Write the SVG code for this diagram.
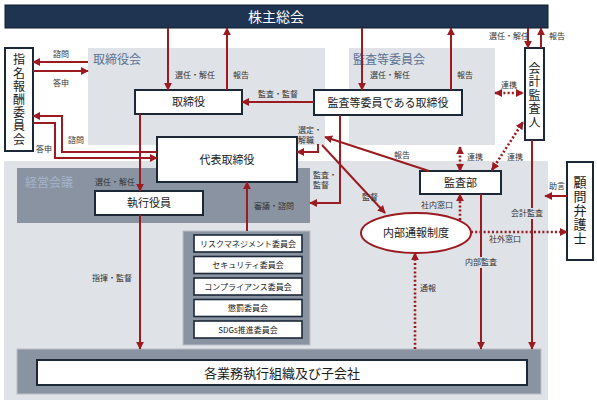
<svg xmlns="http://www.w3.org/2000/svg" width="597" height="405" viewBox="0 0 597 405">
<defs>
<style>
text{font-family:"Noto Sans CJK JP","Noto Sans",sans-serif;}
.panel{fill:#dfe2e7;}
.mid{fill:#8a93a1;}
.box{fill:#fff;stroke:#1b2838;stroke-width:2;}
.cbox{fill:#fff;stroke:#1b2838;stroke-width:1.6;}
.bt{font-size:11px;fill:#1a1a1a;text-anchor:middle;}
.ct{font-size:8px;fill:#1a1a1a;text-anchor:middle;}
.lb{font-size:8px;fill:#333;}
.pl{font-size:12px;fill:#5a7293;}
.ln{fill:none;stroke:#9b1b20;stroke-width:2;}
.dt{fill:none;stroke:#9b1b20;stroke-width:2.6;stroke-dasharray:2 2.2;}
.vt{fill:#1a1a1a;text-anchor:middle;writing-mode:vertical-rl;}
</style>
<marker id="ah" viewBox="0 0 10 10" refX="9" refY="5" markerWidth="8" markerHeight="8" markerUnits="userSpaceOnUse" orient="auto-start-reverse">
<path d="M0,0 L10,5 L0,10 z" fill="#9b1b20"/>
</marker>
</defs>
<rect width="597" height="405" fill="#fff"/>

<!-- panels -->
<g id="torishimariyakukai">
<rect class="panel" x="88" y="48" width="237" height="97"/>
<text class="pl" x="93" y="64">取締役会</text>
</g>
<g id="kansatou-iinkai">
<rect class="panel" x="349" y="48" width="146" height="97"/>
<text class="pl" x="353" y="64">監査等委員会</text>
</g>
<g id="outer-panel">
<rect class="panel" x="4" y="161" width="544" height="239"/>
</g>
<g id="keiei-kaigi">
<rect class="mid" x="17" y="168" width="293" height="55"/>
<text x="25" y="187" style="font-size:12px;fill:#a6b4cb">経営会議</text>
</g>
<g id="committees-panel">
<rect class="mid" x="183" y="231" width="127" height="114" stroke="#b9c0ca" stroke-width="1"/>
</g>
<g id="bottom-panel">
<rect class="mid" x="17" y="349" width="524" height="45" stroke="#b9c0ca" stroke-width="1"/>
</g>

<!-- nodes -->
<g id="kabunushi-soukai">
<rect x="5" y="5" width="543" height="23" fill="#1f3451" stroke="#0f1c2c" stroke-width="1"/>
<text x="276" y="22" style="font-size:14px;fill:#fff;text-anchor:middle">株主総会</text>
</g>
<g id="shimei-houshuu">
<rect class="box" x="5" y="48" width="28" height="103"/>
<text class="vt" x="19" y="100" style="font-size:12px;letter-spacing:1.2px">指名報酬委員会</text>
</g>
<g id="torishimariyaku">
<rect class="box" x="135" y="90" width="107" height="24"/>
<text class="bt" x="188.5" y="106">取締役</text>
</g>
<g id="kansa-torishimariyaku">
<rect class="box" x="314" y="90" width="148" height="25"/>
<text class="bt" x="388" y="106.5">監査等委員である取締役</text>
</g>
<g id="daihyou">
<rect class="box" x="157" y="137" width="140" height="45"/>
<text class="bt" x="227" y="163.5">代表取締役</text>
</g>
<g id="shikkou-yakuin">
<rect class="box" x="95" y="191" width="108" height="24"/>
<text class="bt" x="149" y="207">執行役員</text>
</g>
<g id="kansabu">
<rect class="box" x="420" y="171" width="81" height="23"/>
<text class="bt" x="460.5" y="186.5">監査部</text>
</g>
<g id="naibu-tsuuhou">
<ellipse cx="416" cy="233" rx="55" ry="20" fill="#fff" stroke="#9b1b20" stroke-width="2"/>
<text class="bt" x="416" y="237">内部通報制度</text>
</g>
<g id="kaikei-kansanin">
<rect class="box" x="525" y="48" width="19" height="92"/>
<text class="vt" x="534.5" y="96" style="font-size:12px;letter-spacing:1.5px">会計監査人</text>
</g>
<g id="komon-bengoshi">
<rect class="box" x="567" y="162" width="26" height="98"/>
<text class="vt" x="580" y="211" style="font-size:13px;letter-spacing:1px">顧問弁護士</text>
</g>
<g id="risk">
<rect class="cbox" x="194" y="235" width="108" height="17"/>
<text class="ct" x="248" y="246.5">リスクマネジメント委員会</text>
</g>
<g id="security">
<rect class="cbox" x="194" y="256.5" width="108" height="17"/>
<text class="ct" x="248" y="268">セキュリティ委員会</text>
</g>
<g id="compliance">
<rect class="cbox" x="194" y="278" width="108" height="17"/>
<text class="ct" x="248" y="289.5">コンプライアンス委員会</text>
</g>
<g id="choubatsu">
<rect class="cbox" x="194" y="299.5" width="108" height="17"/>
<text class="ct" x="248" y="311">懲罰委員会</text>
</g>
<g id="sdgs">
<rect class="cbox" x="194" y="321" width="108" height="17"/>
<text class="ct" x="248" y="332.5">SDGs推進委員会</text>
</g>
<g id="gyoumu">
<rect class="box" x="37" y="360" width="490" height="25"/>
<text x="282" y="377.5" style="font-size:13px;fill:#1a1a1a;text-anchor:middle">各業務執行組織及び子会社</text>
</g>

<!-- connectors -->
<g id="connectors">
<path class="ln" d="M168,28 V90" marker-end="url(#ah)"/>
<path class="ln" d="M227,90 V28" marker-end="url(#ah)"/>
<path class="ln" d="M362,28 V90" marker-end="url(#ah)"/>
<path class="ln" d="M451,90 V28" marker-end="url(#ah)"/>
<path class="ln" d="M528,28 V48" marker-end="url(#ah)"/>
<path class="ln" d="M541,48 V28" marker-end="url(#ah)"/>
<path class="ln" d="M314,102 H242" marker-end="url(#ah)"/>
<path class="ln" d="M88,62 H33" marker-end="url(#ah)"/>
<path class="ln" d="M33,71 H88" marker-end="url(#ah)"/>
<path class="ln" d="M157,152 H62 V116 H33" marker-end="url(#ah)"/>
<path class="ln" d="M33,123 H55 V158 H157" marker-end="url(#ah)"/>
<path class="ln" d="M140,114 V191" marker-end="url(#ah)"/>
<path class="ln" d="M140,215 V349" marker-end="url(#ah)"/>
<path class="ln" d="M247,231 V182" marker-end="url(#ah)"/>
<path class="ln" d="M340,115 V203 H310" marker-end="url(#ah)"/>
<path class="ln" d="M318,144 V152 H297" marker-end="url(#ah)"/>
<path class="ln" d="M429,171 L325,137" marker-end="url(#ah)"/>
<path class="ln" d="M322,145 L385,213" marker-end="url(#ah)"/>
<path class="dt" d="M460,147 V171" marker-start="url(#ah)" marker-end="url(#ah)"/>
<path class="dt" d="M492,170 L523,122" marker-start="url(#ah)" marker-end="url(#ah)"/>
<path class="dt" d="M495,93 H523" marker-start="url(#ah)" marker-end="url(#ah)"/>
<path class="ln" d="M481,194 V349" marker-end="url(#ah)"/>
<path class="ln" d="M532,140 V349" marker-end="url(#ah)"/>
<path class="ln" d="M567,196 H545" marker-end="url(#ah)"/>
<path class="dt" d="M460,220 V194" marker-end="url(#ah)"/>
<path class="dt" d="M471,232 H567" marker-end="url(#ah)"/>
<path class="dt" d="M415,349 V253" marker-end="url(#ah)"/>
</g>

<!-- labels -->
<g id="labels">
<text class="lb" x="175" y="78">選任・解任</text>
<text class="lb" x="233" y="78">報告</text>
<text class="lb" x="370" y="78">選任・解任</text>
<text class="lb" x="457" y="78">報告</text>
<text class="lb" x="489" y="39">選任・解任</text>
<text class="lb" x="549" y="39">報告</text>
<text class="lb" x="258" y="97">監査・監督</text>
<text class="lb" x="53" y="57">諮問</text>
<text class="lb" x="53" y="86">答申</text>
<text class="lb" x="68" y="143">諮問</text>
<text class="lb" x="36" y="152">答申</text>
<text class="lb" x="95" y="185">選任・解任</text>
<text class="lb" x="92" y="281">指揮・監督</text>
<text class="lb" x="254" y="209">審議・諮問</text>
<text class="lb" x="313" y="178">監査・</text>
<text class="lb" x="313" y="188">監督</text>
<text class="lb" x="298" y="133">選定・</text>
<text class="lb" x="298" y="143">解職</text>
<text class="lb" x="394" y="158">報告</text>
<text class="lb" x="362" y="200">監督</text>
<text class="lb" x="467" y="160">連携</text>
<text class="lb" x="507" y="160">連携</text>
<text class="lb" x="501" y="88">連携</text>
<text class="lb" x="549" y="189">助言</text>
<rect class="panel" x="510" y="208" width="36" height="11"/>
<text class="lb" x="511" y="216">会計監査</text>
<text class="lb" x="421" y="208">社内窓口</text>
<text class="lb" x="489" y="242">社外窓口</text>
<rect class="panel" x="464" y="257" width="34" height="11"/>
<text class="lb" x="465" y="265">内部監査</text>
<text class="lb" x="420" y="291">通報</text>
</g>
</svg>
